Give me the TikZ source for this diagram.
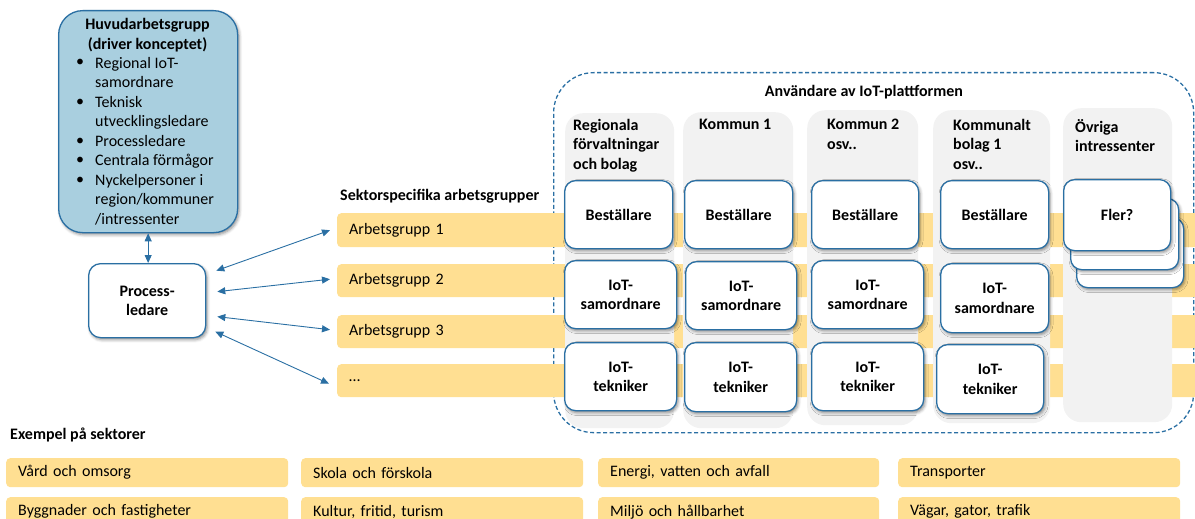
\documentclass[tikz,border=0pt]{standalone}
\usepackage{fontspec}
\setmainfont{Carlito}
\usetikzlibrary{arrows.meta,shadows.blur}

\definecolor{lineblue}{HTML}{2A6FA3}
\definecolor{headfill}{HTML}{A9CFDF}
\definecolor{barfill}{HTML}{FFDF92}
\definecolor{colfill}{HTML}{F2F2F2}

\newcommand{\txtfont}{\fontsize{16}{19.5}\selectfont}

\tikzset{
  txt/.style={font=\txtfont, inner sep=0pt},
  boldtxt/.style={font=\txtfont\bfseries, inner sep=0pt},
  softshadow/.style={blur shadow={shadow xshift=1.5pt, shadow yshift=-2pt,
      shadow blur radius=3pt, shadow opacity=45}},
  card/.style={boldtxt, draw=lineblue, line width=1.3pt, fill=white,
      rounded corners=11pt, align=center, anchor=north west, softshadow},
  headbox/.style={draw=lineblue, line width=1.3pt, fill=headfill,
      rounded corners=24pt, anchor=north west, inner sep=0pt, softshadow},
  bar/.style={txt, fill=barfill, rounded corners=4pt, anchor=north west,
      align=left, inner xsep=12pt},
  colbox/.style={fill=colfill, rounded corners=18pt, anchor=north west,
      inner sep=0pt},
  colhead/.style={boldtxt, align=left, anchor=north west},
  userframe/.style={draw=lineblue, line width=1.3pt, dash pattern=on 4pt off 2.5pt,
      rounded corners=40pt, anchor=north west, inner sep=0pt},
  arr/.style={draw=lineblue, line width=0.9pt,
      {Triangle[length=8pt,width=7pt]}-{Triangle[length=8pt,width=7pt]}},
}

\begin{document}
\begin{tikzpicture}[x=1pt,y=-1pt]
\useasboundingbox (0,0) rectangle (1195,519);

% frame around the platform users
\node[userframe, minimum width=640pt, minimum height=360pt] (users) at (553,72) {};

% sector-specific working groups (bars run under the user columns)
\node[bar, text width=846pt, minimum height=34pt] (ag1) at (337,213) {Arbetsgrupp 1};
\node[bar, text width=846pt, minimum height=33pt] (ag2) at (337,264) {Arbetsgrupp 2};
\node[bar, text width=846pt, minimum height=33pt] (ag3) at (337,315) {Arbetsgrupp 3};
\node[bar, text width=846pt, minimum height=33pt] (ag4) at (337,364) {…};
\node[boldtxt, anchor=west] (sektit) at (340,196) {Sektorspecifika arbetsgrupper};

% user columns
\node[colbox, minimum width=109pt, minimum height=315pt] (c1) at (565,113) {};
\node[colbox, minimum width=110pt, minimum height=316pt] (c2) at (683,112) {};
\node[colbox, minimum width=111pt, minimum height=315pt] (c3) at (807,110) {};
\node[colbox, minimum width=117pt, minimum height=313pt] (c4) at (933,110) {};
\node[colbox, minimum width=109pt, minimum height=314pt] (c5) at (1063,108) {};

\node[boldtxt] (utitle) at (864,92) {Användare av IoT-plattformen};

\node[colhead] (h1) at (573,119) {Regionala\\förvaltningar\\och bolag};
\node[colhead] (h2) at (699,119) {Kommun 1};
\node[colhead] (h3) at (827,119) {Kommun 2\\osv..};
\node[colhead] (h4) at (953,119) {Kommunalt\\bolag 1\\osv..};
\node[colhead] (h5) at (1075,119) {Övriga\\intressenter};

% ordering parties
\node[card, minimum width=108pt, minimum height=68pt] (b1) at (564,180) {Beställare};
\node[card, minimum width=108pt, minimum height=68pt] (b2) at (684,180) {Beställare};
\node[card, minimum width=107pt, minimum height=68pt] (b3) at (811,180) {Beställare};
\node[card, minimum width=108pt, minimum height=68pt] (b4) at (940,180) {Beställare};

% stacked cards for further stakeholders
\node[card, minimum width=107pt, minimum height=70pt] (f3) at (1076,217) {};
\node[card, minimum width=108pt, minimum height=71pt] (f2) at (1070,198) {};
\node[card, minimum width=107pt, minimum height=71pt] (f1) at (1063,179) {Fler?};

% IoT coordinators
\node[card, minimum width=112pt, minimum height=68pt] (s1) at (564,260) {IoT-\\samordnare};
\node[card, minimum width=111pt, minimum height=68pt] (s2) at (685,261) {IoT-\\samordnare};
\node[card, minimum width=112pt, minimum height=68pt] (s3) at (811,260) {IoT-\\samordnare};
\node[card, minimum width=108pt, minimum height=69pt] (s4) at (940,263) {IoT-\\samordnare};

% IoT technicians
\node[card, minimum width=112pt, minimum height=68pt] (t1) at (564,342) {IoT-\\tekniker};
\node[card, minimum width=112pt, minimum height=69pt] (t2) at (684,342) {IoT-\\tekniker};
\node[card, minimum width=112pt, minimum height=68pt] (t3) at (811,342) {IoT-\\tekniker};
\node[card, minimum width=107pt, minimum height=69pt] (t4) at (936,344) {IoT-\\tekniker};

% main working group
\node[headbox, minimum width=179pt, minimum height=222pt] (hb) at (58,10) {};
\node[boldtxt] (hbt1) at (147.5,25) {Huvudarbetsgrupp};
\node[boldtxt] (hbt2) at (147.5,45) {(driver konceptet)};
\node[txt, align=left, anchor=north west] (hbl) at (95,57)
  {Regional IoT-\\samordnare\\Teknisk\\utvecklingsledare\\Processledare\\Centrala förmågor\\Nyckelpersoner i\\region/kommuner\\/intressenter};
\foreach \i/\yy in {1/63,2/103,3/142,4/161,5/181}
  \node[txt] (bul\i) at (80,\yy) {•};

% process lead
\node[card, minimum width=117pt, minimum height=74pt, rounded corners=12pt] (proc) at (88,263) {Process-\\ledare};

% connectors
\draw[arr] (hb.south) -- (hb.south |- proc.north);
\draw[arr] ([shift={(10,-30)}]proc.east) -- ([shift={(-7,0)}]ag1.west);
\draw[arr] ([shift={(11,-9)}]proc.east) -- ([shift={(-7,-1.5)}]ag2.west);
\draw[arr] ([shift={(11,16)}]proc.east) -- ([shift={(-7,-2)}]ag3.west);
\draw[arr] ([shift={(9,31)}]proc.east) -- ([shift={(-8,3)}]ag4.west);

% example sectors
\node[boldtxt, anchor=west] (extit) at (10,435) {Exempel på sektorer};
\node[bar, text width=258pt, minimum height=29pt] (e1) at (6,458) {Vård och omsorg};
\node[bar, text width=258pt, minimum height=29pt] (e2) at (301,458) {Skola och förskola};
\node[bar, text width=257pt, minimum height=29pt] (e3) at (598,458) {Energi, vatten och avfall};
\node[bar, text width=258pt, minimum height=29pt] (e4) at (898,458) {Transporter};
\node[bar, text width=258pt, minimum height=29pt] (e5) at (6,497) {Byggnader och fastigheter};
\node[bar, text width=258pt, minimum height=29pt] (e6) at (301,497) {Kultur, fritid, turism};
\node[bar, text width=257pt, minimum height=29pt] (e7) at (598,497) {Miljö och hållbarhet};
\node[bar, text width=258pt, minimum height=29pt] (e8) at (898,497) {Vägar, gator, trafik};
\end{tikzpicture}
\end{document}
